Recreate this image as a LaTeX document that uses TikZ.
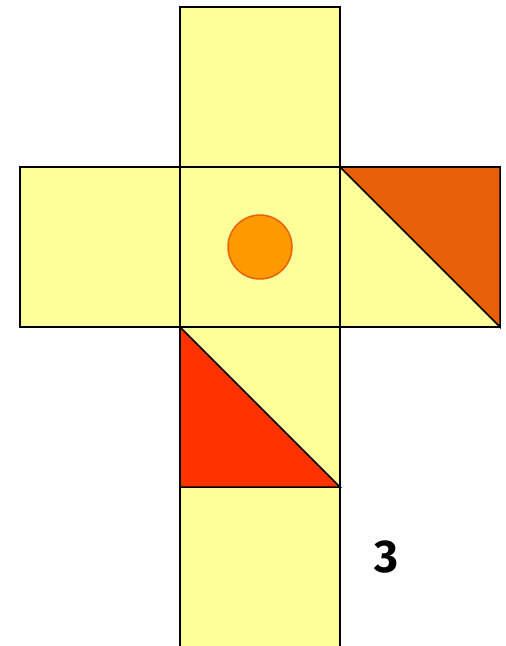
\documentclass[tikz,border=0pt]{standalone}
\usepackage{fontspec}
\newfontfamily\labelfont{Fira Sans}
\definecolor{facey}{HTML}{FFFF99}
\definecolor{triorange}{HTML}{E8610A}
\definecolor{trired}{HTML}{FF3300}
\definecolor{dotfill}{HTML}{FF9900}
\definecolor{dotline}{HTML}{E8620A}
\tikzset{face/.style={fill=facey,draw=black,line width=1.5pt},
  tri/.style={draw=black,line width=1.5pt,line join=miter}}
\begin{document}
\begin{tikzpicture}[x=1pt,y=-1pt]
\useasboundingbox (0,0) rectangle (506,646);
% faces
\draw[face] (180,7) rectangle (340,167);
\draw[face] (20,167) rectangle (180,327);
\draw[face] (180,167) rectangle (340,327);
\draw[face] (340,167) rectangle (500,327);
\draw[face] (180,327) rectangle (340,487);
\draw[face] (180,487) -- (180,650) (340,650) -- (340,487);
\fill[facey] (180,487) rectangle (340,650);
\draw[black,line width=1.5pt] (180,487) -- (180,650) (340,487) -- (340,650);
% triangles
\filldraw[tri,fill=triorange] (340,167) -- (500,167) -- (500,327) -- cycle;
\filldraw[tri,fill=trired] (180,327) -- (180,487) -- (340,487) -- cycle;
% dot
\filldraw[fill=dotfill,draw=dotline,line width=1.5pt] (260,247) circle (32);
% label
\node[font={\labelfont\bfseries\fontsize{46}{50}\selectfont},inner sep=0pt] (lbl) at (386,557) {3};
\end{tikzpicture}
\end{document}
